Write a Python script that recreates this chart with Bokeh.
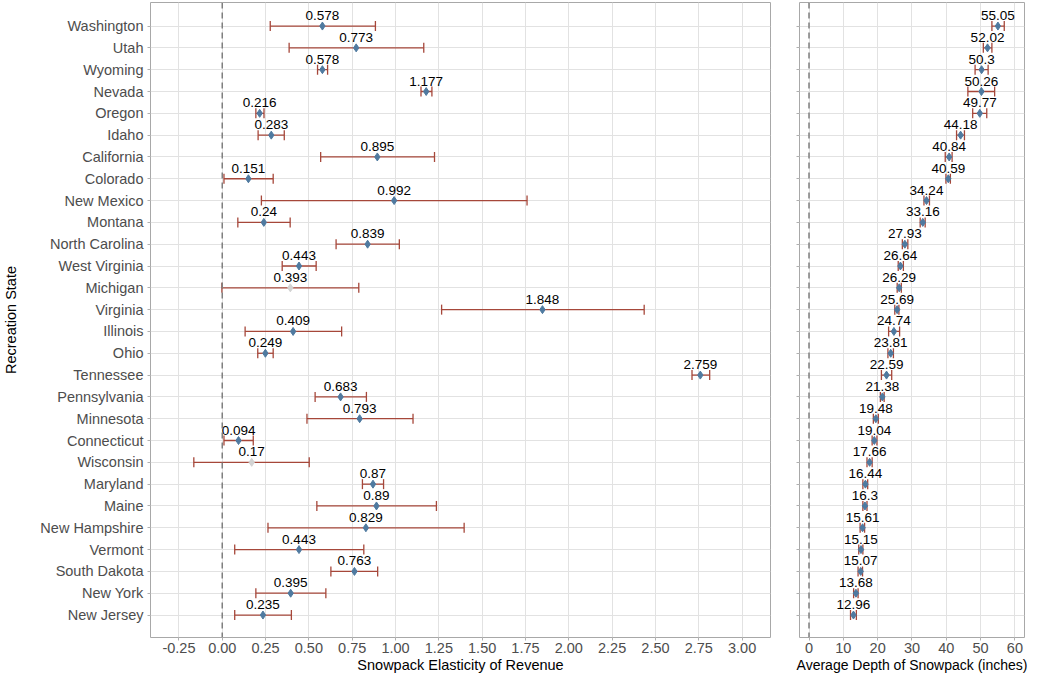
from bokeh.plotting import figure
from bokeh.layouts import row
from bokeh.models import (ColumnDataSource, Whisker, TeeHead, Span, FixedTicker,
                          NumeralTickFormatter, Range1d)
from bokeh.core.properties import value
from bokeh.embed import file_html
from bokeh.resources import INLINE

states = ["Washington", "Utah", "Wyoming", "Nevada", "Oregon", "Idaho", "California",
          "Colorado", "New Mexico", "Montana", "North Carolina", "West Virginia",
          "Michigan", "Virginia", "Illinois", "Ohio", "Tennessee", "Pennsylvania",
          "Minnesota", "Connecticut", "Wisconsin", "Maryland", "Maine", "New Hampshire",
          "Vermont", "South Dakota", "New York", "New Jersey"]

elasticity = [0.578, 0.773, 0.578, 1.177, 0.216, 0.283, 0.895, 0.151, 0.992, 0.24,
              0.839, 0.443, 0.393, 1.848, 0.409, 0.249, 2.759, 0.683, 0.793, 0.094,
              0.17, 0.87, 0.89, 0.829, 0.443, 0.763, 0.395, 0.235]
el_lo = [0.277, 0.386, 0.550, 1.147, 0.194, 0.207, 0.568, 0.010, 0.226, 0.090,
         0.657, 0.346, -0.002, 1.266, 0.132, 0.205, 2.711, 0.536, 0.489, 0.010,
         -0.164, 0.809, 0.546, 0.264, 0.072, 0.627, 0.194, 0.072]
el_hi = [0.884, 1.163, 0.608, 1.210, 0.241, 0.358, 1.225, 0.294, 1.759, 0.392,
         1.022, 0.542, 0.788, 2.435, 0.689, 0.294, 2.813, 0.832, 1.101, 0.179,
         0.502, 0.931, 1.236, 1.396, 0.817, 0.897, 0.598, 0.399]

depth = [55.05, 52.02, 50.3, 50.26, 49.77, 44.18, 40.84, 40.59, 34.24, 33.16,
         27.93, 26.64, 26.29, 25.69, 24.74, 23.81, 22.59, 21.38, 19.48, 19.04,
         17.66, 16.44, 16.3, 15.61, 15.15, 15.07, 13.68, 12.96]
depth_lo = [53.3, 50.8, 48.4, 46.3, 47.7, 43.0, 39.7, 39.9, 33.5, 32.4,
            27.2, 26.0, 25.7, 25.0, 23.2, 23.0, 21.1, 20.8, 18.75, 18.4,
            16.9, 15.7, 15.7, 14.9, 14.5, 14.3, 13.0, 12.1]
depth_hi = [56.9, 53.3, 52.2, 54.1, 51.8, 45.3, 41.7, 41.2, 35.1, 33.85,
            28.8, 27.5, 26.9, 26.2, 26.4, 24.6, 24.1, 21.9, 20.2, 19.8,
            18.4, 17.1, 16.9, 16.2, 15.7, 15.6, 14.3, 13.8]

el_ticks = [-0.25, 0.0, 0.25, 0.5, 0.75, 1.0, 1.25, 1.5, 1.75, 2.0, 2.25, 2.5, 2.75, 3.0]
depth_ticks = [0, 10, 20, 30, 40, 50, 60]

n = len(states)
ypos = [n - i for i in range(n)]
FONT = "Liberation Sans"
H = 675
BAR = "#a6473a"
PT = "#4f7aa0"
GREYPT = "#d3d3d3"


def base_fig(width, xr, ml, mr, xlabel, xticks):
    p = figure(width=width, height=H, x_range=Range1d(*xr), y_range=Range1d(-0.03, 29.08),
               output_backend="svg", toolbar_location=None,
               min_border_left=ml, min_border_right=mr, min_border_top=2, min_border_bottom=0)
    p.outline_line_color = "#a8a8a8"
    p.outline_line_width = 1
    p.background_fill_color = "white"
    p.border_fill_color = "white"
    p.xaxis.ticker = FixedTicker(ticks=xticks)
    p.yaxis.ticker = FixedTicker(ticks=ypos)
    p.xgrid.ticker = FixedTicker(ticks=xticks)
    p.ygrid.ticker = FixedTicker(ticks=ypos)
    for g in (p.xgrid, p.ygrid):
        g.grid_line_color = "#e2e2e2"
        g.grid_line_width = 1
    for ax in (p.xaxis, p.yaxis):
        ax.axis_line_color = None
        ax.major_tick_line_color = "#b0b0b0"
        ax.major_tick_out = 3
        ax.major_tick_in = 0
        ax.minor_tick_line_color = None
        ax.major_label_text_font = FONT
        ax.major_label_text_font_size = "14.5px"
        ax.major_label_text_color = "#4d4d4d"
        ax.axis_label_text_font = FONT
        ax.axis_label_text_font_size = "14.5px"
        ax.axis_label_text_font_style = "normal"
        ax.axis_label_text_color = "black"
    p.xaxis.major_label_standoff = 2
    p.xaxis.axis_label = xlabel
    p.xaxis.axis_label_standoff = 1
    p.add_layout(Span(location=0, dimension="height", line_color="#7f7f7f",
                      line_width=1.5, line_dash="6 4"))
    return p


# Left panel: elasticity
src1 = ColumnDataSource(dict(
    y=ypos, v=elasticity, lo=el_lo, hi=el_hi,
    lab=[str(v) for v in elasticity],
    col=[GREYPT if lo <= 0 else PT for lo in el_lo],
))
p1 = base_fig(781, (-0.414, 3.164), 140, 11, "Snowpack Elasticity of Revenue", el_ticks)
p1.xaxis.formatter = NumeralTickFormatter(format="0.00")
p1.yaxis.major_label_overrides = {y: s for y, s in zip(ypos, states)}
p1.yaxis.major_label_standoff = 4
p1.yaxis.axis_label = "Recreation State"
p1.yaxis.axis_label_standoff = 18
p1.add_layout(Whisker(source=src1, base="y", lower="lo", upper="hi", dimension="width",
                      line_color=BAR, line_width=1.3,
                      lower_head=TeeHead(size=10, line_color=BAR, line_width=1.3),
                      upper_head=TeeHead(size=10, line_color=BAR, line_width=1.3)))
p1.scatter("v", "y", source=src1, marker="diamond", size=8, fill_color="col", line_color="col")
p1.text("v", "y", text="lab", source=src1, text_align="center", text_baseline="bottom",
        y_offset=-6, text_font=value(FONT), text_font_size=value("13.5px"), text_color="black")

# Right panel: depth
src2 = ColumnDataSource(dict(
    y=ypos, v=depth, lo=depth_lo, hi=depth_hi,
    lab=[str(v) for v in depth],
))
p2 = base_fig(248, (-2.77, 62.8), 18, 5, "Average Depth of Snowpack (inches)", depth_ticks)
p2.xaxis.axis_label_text_font_size = "14px"
p2.yaxis.major_label_text_font_size = "0px"
p2.yaxis.major_label_standoff = 0
p2.add_layout(Whisker(source=src2, base="y", lower="lo", upper="hi", dimension="width",
                      line_color=BAR, line_width=1.3,
                      lower_head=TeeHead(size=10, line_color=BAR, line_width=1.3),
                      upper_head=TeeHead(size=10, line_color=BAR, line_width=1.3)))
p2.scatter("v", "y", source=src2, marker="diamond", size=8, fill_color=PT, line_color=PT)
p2.text("v", "y", text="lab", source=src2, text_align="center", text_baseline="bottom",
        y_offset=-6, text_font=value(FONT), text_font_size=value("13.5px"), text_color="black")

layout = row(p1, p2)
open("out.html", "w").write(file_html(layout, INLINE))
